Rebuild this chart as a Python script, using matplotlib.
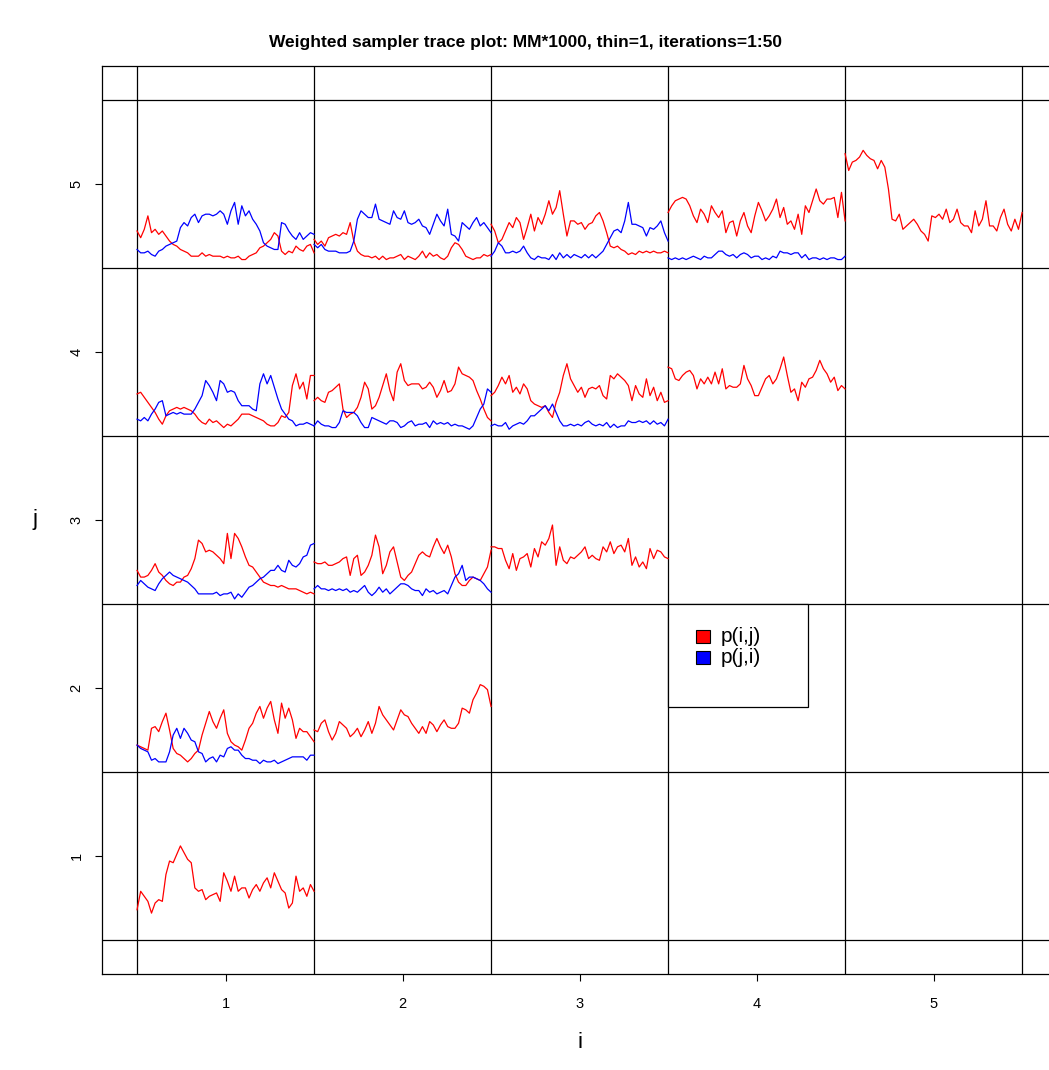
"""Trace plot of the weighted sampler: one panel cell per (i, j) pair.

Each cell (i, j) with j >= i shows the sampled p(i,j) trace in red and,
off the diagonal, the p(j,i) trace in blue, shifted into the cell.
"""

import numpy as np
import matplotlib
matplotlib.use("Agg")
import matplotlib.pyplot as plt
from matplotlib.patches import Rectangle

plt.rcParams["font.family"] = ["Liberation Sans", "DejaVu Sans"]

TITLE = "Weighted sampler trace plot: MM*1000, thin=1, iterations=1:50"
TICKS = [1, 2, 3, 4, 5]

# p(i,j) / p(j,i) over iterations 1..50 (offset within the cell, 0..1)
pij_1_1 = [0.18, 0.29, 0.26, 0.23, 0.16, 0.22, 0.24, 0.23, 0.39, 0.47,
           0.46, 0.51, 0.56, 0.52, 0.48, 0.46, 0.31, 0.29, 0.30, 0.24,
           0.26, 0.27, 0.28, 0.23, 0.40, 0.35, 0.29, 0.38, 0.29, 0.31,
           0.31, 0.25, 0.30, 0.33, 0.29, 0.34, 0.37, 0.31, 0.40, 0.35,
           0.30, 0.28, 0.19, 0.22, 0.38, 0.29, 0.31, 0.26, 0.33, 0.29]

pij_1_2 = [0.16, 0.15, 0.14, 0.13, 0.26, 0.27, 0.24, 0.30, 0.35, 0.25,
           0.14, 0.11, 0.10, 0.08, 0.06, 0.08, 0.11, 0.13, 0.22, 0.29,
           0.36, 0.30, 0.26, 0.32, 0.37, 0.23, 0.18, 0.16, 0.15, 0.13,
           0.19, 0.26, 0.29, 0.35, 0.39, 0.32, 0.38, 0.42, 0.31, 0.23,
           0.41, 0.32, 0.38, 0.31, 0.20, 0.26, 0.24, 0.24, 0.21, 0.18]
pji_1_2 = [0.16, 0.14, 0.13, 0.12, 0.07, 0.08, 0.06, 0.06, 0.06, 0.12,
           0.22, 0.26, 0.20, 0.26, 0.23, 0.19, 0.18, 0.12, 0.11, 0.06,
           0.08, 0.09, 0.06, 0.10, 0.09, 0.14, 0.15, 0.13, 0.13, 0.10,
           0.08, 0.08, 0.07, 0.07, 0.05, 0.07, 0.06, 0.06, 0.07, 0.05,
           0.06, 0.07, 0.08, 0.09, 0.09, 0.09, 0.09, 0.07, 0.10, 0.10]

pij_2_2 = [0.25, 0.24, 0.29, 0.31, 0.24, 0.19, 0.23, 0.30, 0.28, 0.26,
           0.21, 0.23, 0.26, 0.21, 0.25, 0.30, 0.23, 0.29, 0.39, 0.34,
           0.31, 0.28, 0.25, 0.31, 0.37, 0.34, 0.33, 0.29, 0.26, 0.23,
           0.27, 0.23, 0.30, 0.28, 0.24, 0.28, 0.31, 0.27, 0.26, 0.26,
           0.29, 0.38, 0.37, 0.35, 0.43, 0.47, 0.52, 0.51, 0.49, 0.39]

pij_1_3 = [0.20, 0.16, 0.16, 0.17, 0.20, 0.24, 0.19, 0.17, 0.14, 0.12,
           0.11, 0.13, 0.13, 0.16, 0.17, 0.21, 0.27, 0.38, 0.36, 0.31,
           0.32, 0.31, 0.29, 0.27, 0.24, 0.42, 0.27, 0.42, 0.39, 0.34,
           0.28, 0.23, 0.22, 0.19, 0.16, 0.13, 0.12, 0.11, 0.11, 0.10,
           0.11, 0.10, 0.09, 0.09, 0.09, 0.08, 0.07, 0.06, 0.07, 0.06]
pji_1_3 = [0.11, 0.14, 0.12, 0.10, 0.09, 0.08, 0.12, 0.15, 0.17, 0.19,
           0.17, 0.16, 0.15, 0.14, 0.13, 0.11, 0.09, 0.06, 0.06, 0.06,
           0.06, 0.06, 0.07, 0.05, 0.06, 0.06, 0.07, 0.03, 0.06, 0.04,
           0.07, 0.10, 0.11, 0.13, 0.15, 0.16, 0.18, 0.20, 0.20, 0.23,
           0.20, 0.19, 0.26, 0.23, 0.22, 0.24, 0.28, 0.29, 0.35, 0.36]

pij_2_3 = [0.25, 0.24, 0.24, 0.25, 0.23, 0.23, 0.24, 0.25, 0.27, 0.28,
           0.17, 0.27, 0.29, 0.17, 0.19, 0.23, 0.29, 0.41, 0.34, 0.18,
           0.23, 0.31, 0.34, 0.25, 0.16, 0.14, 0.17, 0.19, 0.24, 0.29,
           0.31, 0.29, 0.28, 0.34, 0.39, 0.34, 0.30, 0.35, 0.28, 0.18,
           0.13, 0.11, 0.11, 0.14, 0.16, 0.15, 0.14, 0.18, 0.22, 0.32]
pji_2_3 = [0.09, 0.11, 0.09, 0.09, 0.08, 0.09, 0.08, 0.09, 0.08, 0.09,
           0.07, 0.08, 0.07, 0.09, 0.11, 0.07, 0.05, 0.07, 0.10, 0.07,
           0.09, 0.06, 0.08, 0.10, 0.12, 0.12, 0.11, 0.09, 0.08, 0.08,
           0.05, 0.09, 0.07, 0.08, 0.06, 0.07, 0.08, 0.06, 0.11, 0.16,
           0.18, 0.23, 0.14, 0.16, 0.16, 0.15, 0.14, 0.12, 0.09, 0.07]

pij_3_3 = [0.34, 0.34, 0.33, 0.33, 0.26, 0.21, 0.30, 0.20, 0.27, 0.28,
           0.30, 0.22, 0.33, 0.28, 0.37, 0.35, 0.39, 0.47, 0.23, 0.34,
           0.26, 0.24, 0.28, 0.27, 0.29, 0.31, 0.34, 0.27, 0.29, 0.27,
           0.26, 0.34, 0.31, 0.37, 0.30, 0.34, 0.35, 0.31, 0.39, 0.23,
           0.28, 0.22, 0.25, 0.21, 0.33, 0.27, 0.32, 0.31, 0.28, 0.27]

pij_1_4 = [0.25, 0.26, 0.23, 0.20, 0.17, 0.14, 0.10, 0.07, 0.12, 0.15,
           0.16, 0.17, 0.16, 0.17, 0.16, 0.15, 0.13, 0.10, 0.08, 0.07,
           0.10, 0.08, 0.09, 0.07, 0.05, 0.07, 0.06, 0.08, 0.10, 0.13,
           0.13, 0.13, 0.12, 0.11, 0.10, 0.09, 0.07, 0.06, 0.06, 0.08,
           0.12, 0.11, 0.14, 0.30, 0.37, 0.28, 0.32, 0.22, 0.36, 0.36]
pji_1_4 = [0.10, 0.09, 0.11, 0.09, 0.13, 0.16, 0.20, 0.21, 0.12, 0.13,
           0.14, 0.13, 0.14, 0.13, 0.13, 0.13, 0.16, 0.20, 0.24, 0.33,
           0.30, 0.26, 0.21, 0.33, 0.31, 0.26, 0.27, 0.26, 0.21, 0.18,
           0.18, 0.18, 0.16, 0.15, 0.31, 0.37, 0.31, 0.36, 0.29, 0.22,
           0.16, 0.13, 0.10, 0.09, 0.06, 0.07, 0.07, 0.08, 0.07, 0.06]

pij_2_4 = [0.21, 0.23, 0.21, 0.20, 0.26, 0.27, 0.29, 0.31, 0.16, 0.11,
           0.13, 0.14, 0.17, 0.23, 0.32, 0.28, 0.16, 0.18, 0.23, 0.30,
           0.37, 0.27, 0.21, 0.38, 0.43, 0.33, 0.30, 0.31, 0.31, 0.31,
           0.28, 0.29, 0.32, 0.29, 0.23, 0.27, 0.33, 0.26, 0.27, 0.31,
           0.41, 0.37, 0.36, 0.35, 0.33, 0.27, 0.22, 0.16, 0.11, 0.09]
pji_2_4 = [0.06, 0.09, 0.07, 0.06, 0.06, 0.05, 0.05, 0.08, 0.15, 0.14,
           0.14, 0.14, 0.12, 0.08, 0.05, 0.05, 0.11, 0.10, 0.09, 0.08,
           0.07, 0.09, 0.09, 0.08, 0.05, 0.06, 0.08, 0.09, 0.06, 0.07,
           0.07, 0.08, 0.05, 0.09, 0.07, 0.08, 0.07, 0.08, 0.06, 0.07,
           0.06, 0.06, 0.05, 0.04, 0.06, 0.11, 0.16, 0.19, 0.28, 0.26]

pij_3_4 = [0.24, 0.26, 0.30, 0.35, 0.31, 0.36, 0.26, 0.29, 0.25, 0.31,
           0.28, 0.21, 0.19, 0.18, 0.17, 0.18, 0.14, 0.11, 0.20, 0.26,
           0.36, 0.43, 0.34, 0.30, 0.26, 0.29, 0.23, 0.28, 0.29, 0.28,
           0.30, 0.24, 0.22, 0.36, 0.34, 0.37, 0.35, 0.33, 0.30, 0.21,
           0.30, 0.25, 0.23, 0.34, 0.24, 0.29, 0.21, 0.26, 0.20, 0.21]
pji_3_4 = [0.06, 0.07, 0.06, 0.06, 0.08, 0.04, 0.06, 0.07, 0.08, 0.07,
           0.09, 0.12, 0.12, 0.14, 0.16, 0.18, 0.15, 0.19, 0.14, 0.09,
           0.06, 0.06, 0.07, 0.06, 0.07, 0.06, 0.08, 0.09, 0.07, 0.06,
           0.07, 0.06, 0.08, 0.05, 0.07, 0.05, 0.06, 0.06, 0.09, 0.08,
           0.08, 0.09, 0.08, 0.09, 0.07, 0.09, 0.07, 0.08, 0.06, 0.10]

pij_4_4 = [0.41, 0.40, 0.34, 0.33, 0.36, 0.38, 0.39, 0.36, 0.28, 0.34,
           0.31, 0.35, 0.31, 0.38, 0.31, 0.40, 0.28, 0.30, 0.29, 0.29,
           0.31, 0.42, 0.34, 0.30, 0.24, 0.24, 0.29, 0.34, 0.36, 0.31,
           0.34, 0.40, 0.47, 0.36, 0.26, 0.28, 0.21, 0.32, 0.29, 0.34,
           0.35, 0.39, 0.45, 0.40, 0.37, 0.32, 0.35, 0.27, 0.30, 0.28]

pij_1_5 = [0.22, 0.18, 0.23, 0.31, 0.21, 0.23, 0.20, 0.22, 0.19, 0.16,
           0.14, 0.13, 0.11, 0.10, 0.09, 0.07, 0.07, 0.07, 0.09, 0.07,
           0.08, 0.07, 0.07, 0.07, 0.06, 0.07, 0.06, 0.06, 0.07, 0.05,
           0.05, 0.07, 0.08, 0.09, 0.12, 0.13, 0.15, 0.17, 0.21, 0.19,
           0.10, 0.08, 0.10, 0.09, 0.13, 0.11, 0.10, 0.13, 0.14, 0.09]
pji_1_5 = [0.11, 0.09, 0.09, 0.10, 0.08, 0.07, 0.10, 0.11, 0.13, 0.14,
           0.15, 0.16, 0.24, 0.27, 0.25, 0.30, 0.32, 0.27, 0.31, 0.32,
           0.32, 0.31, 0.32, 0.34, 0.32, 0.26, 0.34, 0.39, 0.26, 0.37,
           0.31, 0.34, 0.29, 0.26, 0.22, 0.15, 0.13, 0.12, 0.11, 0.11,
           0.27, 0.26, 0.22, 0.19, 0.17, 0.21, 0.17, 0.19, 0.21, 0.20]

pij_2_5 = [0.17, 0.14, 0.16, 0.13, 0.18, 0.19, 0.20, 0.19, 0.21, 0.20,
           0.27, 0.16, 0.10, 0.08, 0.07, 0.07, 0.06, 0.07, 0.05, 0.07,
           0.05, 0.06, 0.06, 0.07, 0.08, 0.05, 0.07, 0.06, 0.05, 0.07,
           0.10, 0.06, 0.09, 0.07, 0.08, 0.06, 0.05, 0.07, 0.12, 0.15,
           0.14, 0.11, 0.07, 0.06, 0.05, 0.06, 0.06, 0.08, 0.07, 0.08]
pji_2_5 = [0.14, 0.12, 0.14, 0.11, 0.10, 0.10, 0.10, 0.09, 0.09, 0.09,
           0.10, 0.16, 0.29, 0.34, 0.32, 0.30, 0.30, 0.38, 0.29, 0.28,
           0.27, 0.26, 0.34, 0.30, 0.29, 0.34, 0.27, 0.26, 0.27, 0.29,
           0.25, 0.24, 0.20, 0.26, 0.32, 0.28, 0.25, 0.35, 0.20, 0.19,
           0.16, 0.27, 0.25, 0.23, 0.27, 0.30, 0.25, 0.27, 0.24, 0.21]

pij_3_5 = [0.26, 0.22, 0.15, 0.17, 0.22, 0.27, 0.24, 0.30, 0.27, 0.17,
           0.24, 0.32, 0.22, 0.30, 0.26, 0.32, 0.40, 0.32, 0.36, 0.46,
           0.32, 0.19, 0.28, 0.28, 0.26, 0.27, 0.23, 0.26, 0.27, 0.31,
           0.33, 0.28, 0.21, 0.13, 0.12, 0.13, 0.11, 0.10, 0.08, 0.09,
           0.08, 0.10, 0.09, 0.10, 0.09, 0.10, 0.09, 0.09, 0.10, 0.09]
pji_3_5 = [0.07, 0.10, 0.15, 0.13, 0.09, 0.09, 0.10, 0.09, 0.10, 0.13,
           0.09, 0.06, 0.05, 0.07, 0.06, 0.06, 0.05, 0.08, 0.05, 0.09,
           0.06, 0.08, 0.06, 0.08, 0.07, 0.06, 0.08, 0.06, 0.08, 0.06,
           0.08, 0.10, 0.14, 0.18, 0.22, 0.23, 0.21, 0.28, 0.39, 0.26,
           0.26, 0.25, 0.24, 0.19, 0.24, 0.23, 0.25, 0.28, 0.21, 0.16]

pij_4_5 = [0.33, 0.37, 0.40, 0.41, 0.42, 0.41, 0.37, 0.31, 0.27, 0.35,
           0.32, 0.27, 0.37, 0.33, 0.30, 0.34, 0.21, 0.27, 0.28, 0.19,
           0.28, 0.33, 0.25, 0.21, 0.31, 0.39, 0.34, 0.28, 0.31, 0.35,
           0.41, 0.30, 0.36, 0.26, 0.28, 0.23, 0.32, 0.20, 0.37, 0.33,
           0.40, 0.47, 0.40, 0.38, 0.41, 0.41, 0.42, 0.30, 0.45, 0.28]
pji_4_5 = [0.06, 0.05, 0.06, 0.05, 0.06, 0.05, 0.06, 0.07, 0.06, 0.05,
           0.07, 0.06, 0.06, 0.08, 0.10, 0.10, 0.08, 0.07, 0.08, 0.06,
           0.08, 0.09, 0.08, 0.06, 0.07, 0.07, 0.05, 0.06, 0.05, 0.07,
           0.06, 0.10, 0.09, 0.09, 0.08, 0.09, 0.09, 0.06, 0.08, 0.05,
           0.06, 0.06, 0.05, 0.06, 0.05, 0.06, 0.06, 0.05, 0.05, 0.07]

pij_5_5 = [0.68, 0.58, 0.63, 0.64, 0.66, 0.70, 0.67, 0.65, 0.64, 0.59,
           0.64, 0.60, 0.47, 0.29, 0.28, 0.32, 0.23, 0.25, 0.27, 0.29,
           0.26, 0.22, 0.20, 0.16, 0.31, 0.30, 0.32, 0.29, 0.35, 0.27,
           0.29, 0.35, 0.27, 0.25, 0.25, 0.21, 0.34, 0.25, 0.29, 0.40,
           0.25, 0.25, 0.22, 0.30, 0.35, 0.26, 0.22, 0.29, 0.23, 0.33]

# (i, j, p(i,j) trace, p(j,i) trace or None on the diagonal)
CELLS = [
    (1, 1, pij_1_1, None),
    (1, 2, pij_1_2, pji_1_2),
    (2, 2, pij_2_2, None),
    (1, 3, pij_1_3, pji_1_3),
    (2, 3, pij_2_3, pji_2_3),
    (3, 3, pij_3_3, None),
    (1, 4, pij_1_4, pji_1_4),
    (2, 4, pij_2_4, pji_2_4),
    (3, 4, pij_3_4, pji_3_4),
    (4, 4, pij_4_4, None),
    (1, 5, pij_1_5, pji_1_5),
    (2, 5, pij_2_5, pji_2_5),
    (3, 5, pij_3_5, pji_3_5),
    (4, 5, pij_4_5, pji_4_5),
    (5, 5, pij_5_5, None),
]

RED = "#FF0000"
BLUE = "#0000FF"

fig = plt.figure(figsize=(10.49, 10.70), dpi=100)
# plot region runs a little past the right edge of the canvas
ax = fig.add_axes([0.0969, 0.0901, 0.9112, 0.8479])
ax.set_xlim(0.3, 5.7)
ax.set_ylim(0.3, 5.7)

# cell grid
for edge in np.arange(0.5, 6.0, 1.0):
    ax.axvline(edge, color="black", lw=0.9, zorder=1)
    ax.axhline(edge, color="black", lw=0.9, zorder=1)

for i, j, red, blue in CELLS:
    x = np.linspace(i - 0.5, i + 0.5, len(red))
    ax.plot(x, j - 0.5 + np.asarray(red), color=RED, lw=0.9, zorder=2)
    if blue is not None:
        xb = np.linspace(i - 0.5, i + 0.5, len(blue))
        ax.plot(xb, j - 0.5 + np.asarray(blue), color=BLUE, lw=0.9, zorder=2)

for side in ax.spines.values():
    side.set_linewidth(0.9)

ax.set_xticks(TICKS)
ax.set_yticks(TICKS)
ax.set_xticklabels([str(t) for t in TICKS])
ax.set_yticklabels([str(t) for t in TICKS], rotation=90, va="center")
ax.tick_params(axis="both", direction="out", length=5, width=0.8,
               labelsize=10.5, colors="black")
ax.tick_params(axis="x", pad=12)
ax.tick_params(axis="y", pad=8)

ax.set_xlabel("i", fontsize=16)
ax.set_ylabel("j", fontsize=16, rotation=0, va="center")
ax.xaxis.set_label_coords(0.5, -0.064)
ax.yaxis.set_label_coords(-0.070, 0.5)

fig.text(0.5005, 1 - 42 / 1070, TITLE, ha="center", va="center",
         fontsize=12.5, fontweight="bold")

# legend box anchored at the top-left corner of cell (4, 2)
box_w, box_h = 0.79, 0.615
ax.add_patch(Rectangle((3.5, 2.5 - box_h), box_w, box_h, facecolor="white",
                       edgecolor="black", lw=0.9, zorder=5))
sq_w, sq_h = 0.076, 0.079
for k, (label, color) in enumerate([("p(i,j)", RED), ("p(j,i)", BLUE)]):
    yc = 2.307 - 0.125 * k
    ax.add_patch(Rectangle((3.66, yc - sq_h / 2), sq_w, sq_h, facecolor=color,
                           edgecolor="black", lw=0.8, zorder=6))
    ax.text(3.80, yc, label, fontsize=15, ha="left", va="center", zorder=6)

fig.savefig("out.png", dpi=100)
